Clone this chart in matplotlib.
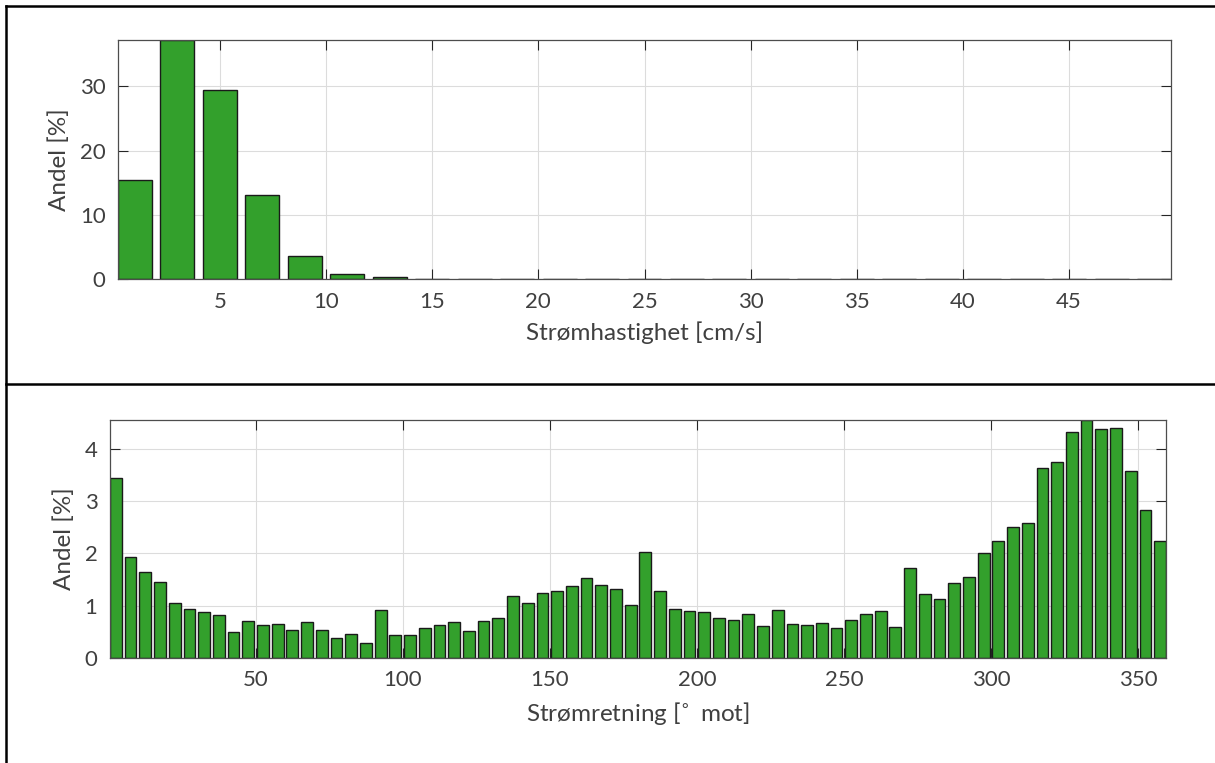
import numpy as np
import matplotlib
matplotlib.use('Agg')
import matplotlib.pyplot as plt
from matplotlib.lines import Line2D

plt.rcParams['font.family'] = ['Lato', 'DejaVu Sans']

# Stromhastighet: 2 cm/s klasser, senter 1, 3, ..., 49
fart_senter = np.arange(1, 50, 2)
fart_andel = [15.47, 37.2, 29.4, 13.1, 3.57, 0.85, 0.25, 0.05, 0.02, 0.01,
              0, 0, 0, 0, 0, 0, 0, 0, 0, 0, 0, 0, 0, 0, 0]
fart_ticks = [5, 10, 15, 20, 25, 30, 35, 40, 45]

# Stromretning: 5 grader klasser, senter 2.5, 7.5, ..., 357.5
retn_senter = np.arange(2.5, 360, 5)
retn_andel = [3.44, 1.93, 1.65, 1.45, 1.05, 0.945, 0.875, 0.83, 0.50, 0.70,
              0.63, 0.65, 0.53, 0.68, 0.53, 0.38, 0.46, 0.29, 0.91, 0.44,
              0.44, 0.57, 0.63, 0.68, 0.52, 0.70, 0.77, 1.18, 1.06, 1.24,
              1.29, 1.38, 1.53, 1.40, 1.32, 1.02, 2.03, 1.28, 0.945, 0.89,
              0.87, 0.77, 0.73, 0.84, 0.61, 0.91, 0.65, 0.64, 0.67, 0.58,
              0.72, 0.84, 0.89, 0.60, 1.72, 1.23, 1.12, 1.43, 1.55, 2.01,
              2.24, 2.50, 2.59, 3.63, 3.74, 4.32, 4.55, 4.37, 4.39, 3.57,
              2.82, 2.24]
retn_ticks = [50, 100, 150, 200, 250, 300, 350]

W, H = 1215, 763
fig = plt.figure(figsize=(W / 100, H / 100), dpi=100)

def px_axes(l, t, r, b):
    return fig.add_axes([l / W, 1 - b / H, (r - l) / W, (b - t) / H])

gronn = '#33a02c'
tekst = '#404040'

def stil(ax):
    ax.grid(True, color='#dcdcdc', lw=0.8)
    ax.set_axisbelow(True)
    ax.tick_params(direction='in', length=7, width=0.8, top=True, right=True,
                   colors='#262626', labelcolor=tekst, labelsize=16, pad=9)
    for s in ax.spines.values():
        s.set_color('#4d4d4d')
        s.set_linewidth(0.9)

ax1 = px_axes(118, 40, 1171, 279)
ax1.bar(fart_senter, fart_andel, width=1.6, color=gronn, edgecolor='#1a1a1a', lw=1.0)
ax1.set_xlim(0.2, 49.8)
ax1.set_ylim(0, max(fart_andel))
ax1.set_xticks(fart_ticks)
ax1.set_yticks([0, 10, 20, 30])
stil(ax1)
ax1.set_xlabel('Strømhastighet [cm/s]', fontsize=17.5, color=tekst, labelpad=7)
ax1.set_ylabel('Andel [%]', fontsize=17.5, color=tekst, labelpad=7)

ax2 = px_axes(110, 420, 1166, 658)
ax2.bar(retn_senter, retn_andel, width=4, color=gronn, edgecolor='#1a1a1a', lw=1.0)
ax2.set_xlim(0.5, 359.5)
ax2.set_ylim(0, max(retn_andel))
ax2.set_xticks(retn_ticks)
ax2.set_yticks([0, 1, 2, 3, 4])
stil(ax2)
ax2.set_xlabel('Strømretning [$\\!^\\circ$ mot]', fontsize=17.5, color=tekst, labelpad=7)
ax2.set_ylabel('Andel [%]', fontsize=17.5, color=tekst, labelpad=7)

# ramme rundt figurene
for (x0, y0, x1, y1) in [(6, 6, W, 6), (6, 6, 6, H), (6, 384, W, 384)]:
    fig.add_artist(Line2D([x0 / W, x1 / W], [1 - y0 / H, 1 - y1 / H],
                          color='black', lw=1.8, transform=fig.transFigure))

fig.savefig('out.png', dpi=100)
